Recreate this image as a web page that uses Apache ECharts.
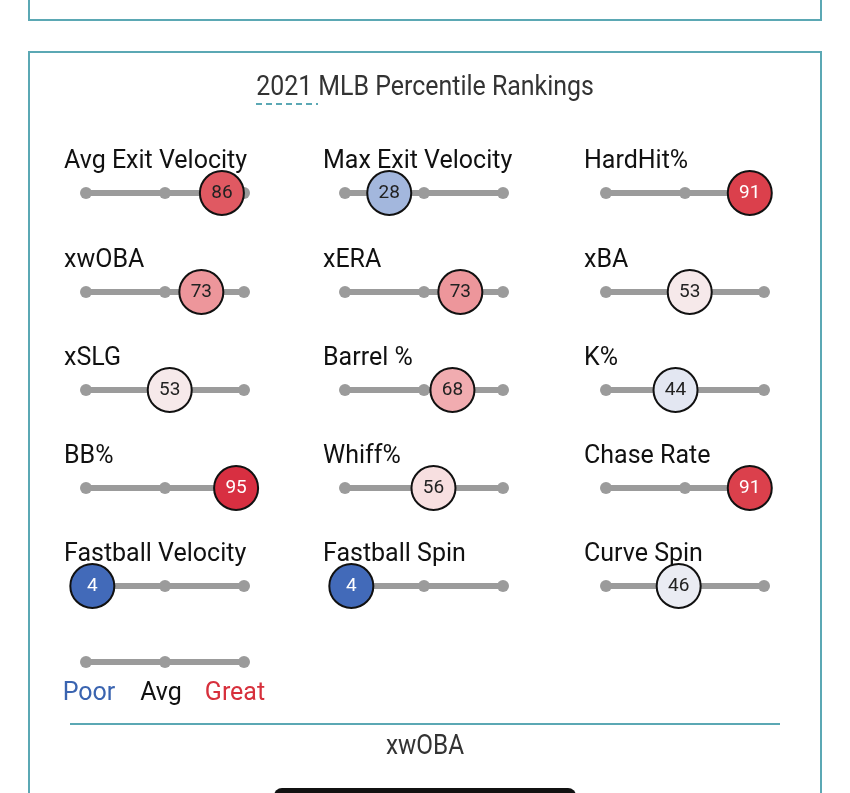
<!DOCTYPE html>
<html>
<head>
<meta charset="utf-8">
<script src="https://cdn.jsdelivr.net/npm/echarts@6/dist/echarts.min.js"></script>
<style>
	html, body { margin: 0; padding: 0; background: #fff; }
	#chart { width: 850px; height: 793px; }
</style>
</head>
<body>
<div id="chart"></div>
<script>
var chartTitle = '2021 MLB Percentile Rankings';
var metricNames = ['Avg Exit Velocity', 'Max Exit Velocity', 'HardHit%',
	'xwOBA', 'xERA', 'xBA',
	'xSLG', 'Barrel %', 'K%',
	'BB%', 'Whiff%', 'Chase Rate',
	'Fastball Velocity', 'Fastball Spin', 'Curve Spin'];
var percentiles = [86, 28, 91, 73, 73, 53, 53, 68, 44, 95, 56, 91, 4, 4, 46];
var trackTicks = [0, 50, 100];
var legendLabels = ['Poor', 'Avg', 'Great'];
var footerMetric = 'xwOBA';

var teal = '#5ba8b4';
var trackGray = '#9b9b9b';
var colX = [86, 345, 606];      // left end of each column track
var rowY = [193, 292, 390, 488, 586];
var trackW = 158;
var legendY = 662;

function trackSeries(gi){
	return {
		type: 'line',
		xAxisIndex: gi,
		yAxisIndex: gi,
		data: trackTicks.map(function(t){ return [t, 0]; }),
		symbol: 'circle',
		symbolSize: 12,
		lineStyle: { color: trackGray, width: 6 },
		itemStyle: { color: trackGray },
		silent: true,
		animation: false,
		clip: false,
		z: 2
	};
}

var grids = [], xAxes = [], yAxes = [], series = [], graphics = [], scatterIdx = [];

function addGrid(left, y){
	grids.push({ left: left, top: y - 1, width: trackW, height: 2 });
	xAxes.push({ type: 'value', min: 0, max: 100, show: false, gridIndex: grids.length - 1 });
	yAxes.push({ type: 'value', min: -1, max: 1, show: false, gridIndex: grids.length - 1 });
	return grids.length - 1;
}

metricNames.forEach(function(name, i){
	var col = i % 3, row = Math.floor(i / 3);
	var gi = addGrid(colX[col], rowY[row]);
	series.push(trackSeries(gi));
	graphics.push({
		type: 'text',
		left: colX[col] - 22,
		top: rowY[row] - 44,
		style: { text: name, fontSize: 25, fontFamily: 'Roboto', fill: '#111' }
	});
});

metricNames.forEach(function(name, i){
	var v = percentiles[i];
	scatterIdx.push(series.length);
	series.push({
		type: 'scatter',
		name: name,
		xAxisIndex: i,
		yAxisIndex: i,
		symbolSize: 44,
		clip: false,
		animation: false,
		itemStyle: { borderColor: '#111', borderWidth: 2, opacity: 1 },
		label: {
			show: true,
			position: 'inside',
			fontSize: 19,
			fontFamily: 'Roboto',
			formatter: function(p){ return p.value[0]; }
		},
		data: [{ value: [v, 0], label: { color: (v >= 90 || v <= 10) ? '#fff' : '#222' } }],
		z: 5
	});
});

// legend track
var lg = addGrid(colX[0], legendY);
series.push(trackSeries(lg));
var legendColors = ['#3a64b0', '#111', '#d7303c'];
legendLabels.forEach(function(t, i){
	graphics.push({
		type: 'text',
		x: colX[0] + trackW * trackTicks[i] / 100 + [3, -4, -9][i],
		y: 694,
		style: { text: t, fontSize: 25, fontFamily: 'Roboto', fill: legendColors[i], align: 'center', verticalAlign: 'middle' }
	});
});

// frame, title, footer
graphics.push(
	{ type: 'rect', shape: { x: 29, y: -20, width: 792, height: 40 }, style: { fill: 'none', stroke: teal, lineWidth: 2 } },
	{ type: 'rect', shape: { x: 29, y: 52, width: 792, height: 800 }, style: { fill: 'none', stroke: teal, lineWidth: 2 } },
	{ type: 'text', x: 425, y: 88, scaleX: 0.89, style: { text: chartTitle, fontSize: 28, fontFamily: 'Roboto', fill: '#333', align: 'center', verticalAlign: 'middle' } },
	{ type: 'line', shape: { x1: 256, y1: 104, x2: 318, y2: 104 }, style: { stroke: teal, lineWidth: 2, lineDash: [6, 4] } },
	{ type: 'line', shape: { x1: 70, y1: 724, x2: 780, y2: 724 }, style: { stroke: teal, lineWidth: 2 } },
	{ type: 'text', x: 425, y: 747, scaleX: 0.9, style: { text: footerMetric, fontSize: 27, fontFamily: 'Roboto', fill: '#333', align: 'center', verticalAlign: 'middle' } },
	{ type: 'rect', shape: { x: 274, y: 788, width: 302, height: 20, r: 8 }, style: { fill: '#111' } }
);

var chart = echarts.init(document.getElementById('chart'));
chart.setOption({
	backgroundColor: '#fff',
	animation: false,
	grid: grids,
	xAxis: xAxes,
	yAxis: yAxes,
	visualMap: {
		type: 'continuous',
		show: false,
		min: 0,
		max: 100,
		dimension: 0,
		seriesIndex: scatterIdx,
		inRange: {
			color: ['#3560b3', '#5679c1', '#819cd1', '#acbee0', '#d7dff0', '#f6f4f5',
				'#f7d1d2', '#f0a3a7', '#e7787e', '#dc444f', '#d41a32']
		}
	},
	graphic: graphics,
	series: series
});
</script>
</body>
</html>
